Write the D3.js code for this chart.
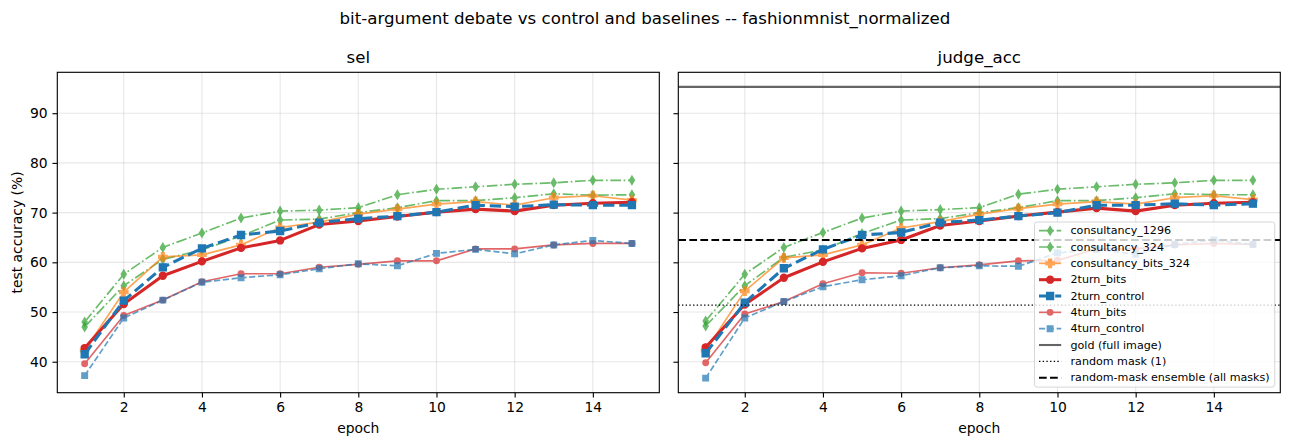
<!DOCTYPE html>
<html><head><meta charset="utf-8">
<script src="https://cdn.jsdelivr.net/npm/d3@7"></script>
<style>
html,body{margin:0;padding:0;background:#fff;}
text{font-family:"DejaVu Sans",sans-serif;fill:#000;}
</style></head>
<body>
<svg id="chart" width="1290" height="446"></svg>
<script>
const epochs = [1,2,3,4,5,6,7,8,9,10,11,12,13,14,15];
const xTicks = [2,4,6,8,10,12,14];
const yTicks = [40,50,60,70,80,90];

// panel "sel"
const c1296_sel = [48.0,57.6,63.0,65.9,68.9,70.3,70.5,71.0,73.6,74.7,75.2,75.7,76.0,76.5,76.5];
const c324_sel  = [47.0,55.3,60.6,62.5,65.3,68.5,68.7,70.0,71.0,72.4,72.4,73.0,73.8,73.5,73.6];
const cbits_sel = [42.3,54.0,61.1,61.5,63.5,67.0,68.1,69.7,70.7,71.7,72.2,71.5,73.0,73.4,72.5];
const b2_sel    = [42.75,51.6,57.3,60.2,62.9,64.4,67.6,68.3,69.2,70.1,70.7,70.3,71.5,71.9,72.1];
const c2_sel    = [41.5,52.3,59.0,62.8,65.5,66.3,68.0,68.8,69.3,70.1,71.5,71.2,71.6,71.5,71.5];
const b4_sel    = [39.6,49.3,52.4,56.1,57.7,57.7,59.0,59.6,60.3,60.3,62.7,62.7,63.5,63.8,63.8];
const c4_sel    = [37.2,48.8,52.4,56.0,56.9,57.5,58.7,59.7,59.3,61.8,62.6,61.7,63.5,64.4,63.8];

// panel "judge_acc"
const c1296_j = [48.2,57.6,63.0,66.0,68.9,70.3,70.6,71.0,73.7,74.7,75.2,75.7,76.0,76.5,76.5];
const c324_j  = [47.2,55.3,61.0,62.5,65.8,68.5,68.8,70.0,71.0,72.4,72.4,73.0,73.8,73.6,73.6];
const cbits_j = [42.3,54.2,60.9,61.5,63.5,66.9,68.2,69.7,70.8,71.7,72.2,71.7,73.0,73.4,72.6];
const b2_j    = [42.9,51.5,56.9,60.1,62.8,64.5,67.4,68.3,69.3,70.1,70.9,70.3,71.5,71.9,72.1];
const c2_j    = [41.7,51.9,58.8,62.6,65.5,66.0,68.0,68.5,69.3,70.0,71.5,71.5,71.8,71.5,71.8];
const b4_j    = [39.8,49.6,52.1,55.7,57.9,57.8,58.9,59.5,60.3,60.4,62.7,62.7,63.5,63.8,63.6];
const c4_j    = [36.7,48.8,52.1,55.1,56.5,57.3,58.9,59.3,59.2,61.9,62.6,61.6,63.6,64.5,63.6];

// baselines (judge_acc panel)
const goldAcc = 95.3;
const randomMaskAcc = 51.4;
const ensembleAcc = 64.5;

const seriesNames = ["consultancy_1296","consultancy_324","consultancy_bits_324","2turn_bits","2turn_control","4turn_bits","4turn_control"];
const selValues = [c1296_sel,c324_sel,cbits_sel,b2_sel,c2_sel,b4_sel,c4_sel];
const judgeValues = [c1296_j,c324_j,cbits_j,b2_j,c2_j,b4_j,c4_j];
const baselineNames = ["gold (full image)","random mask (1)","random-mask ensemble (all masks)"];
const baselineValues = [goldAcc, randomMaskAcc, ensembleAcc];

(function(){
const PT = 100/72;
const styles = [
  {color:"#2ca02c", alpha:0.7, lw:1.2, dash:[6.4,1.6,1,1.6], marker:"thin_diamond", ms:6},
  {color:"#2ca02c", alpha:0.7, lw:1.2, dash:[6.4,1.6,1,1.6], marker:"thin_diamond", ms:6},
  {color:"#ff7f0e", alpha:0.7, lw:1.2, dash:null, marker:"plus", ms:6},
  {color:"#d62728", alpha:1.0, lw:2.2, dash:null, marker:"circle", ms:5},
  {color:"#1f77b4", alpha:1.0, lw:2.2, dash:[3.7,1.6], marker:"square", ms:5},
  {color:"#d62728", alpha:0.7, lw:1.2, dash:null, marker:"circle", ms:4},
  {color:"#1f77b4", alpha:0.7, lw:1.2, dash:[3.7,1.6], marker:"square", ms:4}
];
const baseStyles = [
  {color:"#000000", alpha:0.6, lw:1.5, dash:null},
  {color:"#000000", alpha:1.0, lw:1.0, dash:[1,1.65]},
  {color:"#000000", alpha:1.0, lw:1.5, dash:[3.7,1.6]}
];

function dashStr(st){ return st.dash ? st.dash.map(d=>d*st.lw*PT).join(",") : null; }

function markerPath(type, ms){
  const s = ms*PT;
  if(type==="circle"){ const r=s/2; return `M${r},0A${r},${r} 0 1,1 ${-r},0A${r},${r} 0 1,1 ${r},0Z`; }
  if(type==="square"){ const h=s/2; return `M${-h},${-h}H${h}V${h}H${-h}Z`; }
  if(type==="thin_diamond"){ const h=s/2, w=s*0.3; return `M0,${-h}L${w},0L0,${h}L${-w},0Z`; }
  if(type==="plus"){ const h=s/2, t=s/6; return `M${-t},${-h}H${t}V${-t}H${h}V${t}H${t}V${h}H${-t}V${t}H${-h}V${-t}H${-t}Z`; }
}

const svg = d3.select("#chart");
const W=1290;

const allVals = selValues.flat().concat(judgeValues.flat(), baselineValues);
const ymin = d3.min(allVals), ymax = d3.max(allVals);
const ypad = (ymax-ymin)*0.05;
const xmin = d3.min(epochs), xmax = d3.max(epochs), xpad=(xmax-xmin)*0.05;

const plotTop=72.3, plotBottom=392.7;
const panels = [
  {left:57.3, right:659.3, title:"sel", values:selValues, baselines:false, yLabels:true},
  {left:678.3, right:1280.3, title:"judge_acc", values:judgeValues, baselines:true, yLabels:false}
];

svg.append("text").attr("x",W/2).attr("y",18).attr("text-anchor","middle")
  .attr("dominant-baseline","central").style("font-size",(12*PT)+"px")
  .text("bit-argument debate vs control and baselines -- fashionmnist_normalized");

panels.forEach((p,pi)=>{
  const x = d3.scaleLinear().domain([xmin-xpad,xmax+xpad]).range([p.left,p.right]);
  const y = d3.scaleLinear().domain([ymin-ypad,ymax+ypad]).range([plotBottom,plotTop]);
  const g = svg.append("g");
  const clipId = "clip"+pi;
  svg.append("clipPath").attr("id",clipId).append("rect")
    .attr("x",p.left).attr("y",plotTop).attr("width",p.right-p.left).attr("height",plotBottom-plotTop);

  g.append("g").selectAll("line").data(xTicks).join("line")
    .attr("x1",d=>x(d)).attr("x2",d=>x(d)).attr("y1",plotTop).attr("y2",plotBottom)
    .attr("stroke","#b0b0b0").attr("stroke-opacity",0.3).attr("stroke-width",0.8*PT);
  g.append("g").selectAll("line").data(yTicks).join("line")
    .attr("y1",d=>y(d)).attr("y2",d=>y(d)).attr("x1",p.left).attr("x2",p.right)
    .attr("stroke","#b0b0b0").attr("stroke-opacity",0.3).attr("stroke-width",0.8*PT);

  const plot = g.append("g").attr("clip-path",`url(#${clipId})`);
  const line = d3.line().x((d,i)=>x(epochs[i])).y(d=>y(d));
  p.values.forEach((vals,si)=>{
    const st = styles[si];
    const sg = plot.append("g").attr("opacity",st.alpha);
    sg.append("path").datum(vals).attr("d",line).attr("fill","none")
      .attr("stroke",st.color).attr("stroke-width",st.lw*PT)
      .attr("stroke-dasharray",dashStr(st)).attr("stroke-linejoin","round");
    sg.selectAll("path.m").data(vals).join("path").attr("class","m")
      .attr("transform",(d,i)=>`translate(${x(epochs[i])},${y(d)})`)
      .attr("d",markerPath(st.marker,st.ms)).attr("fill",st.color).attr("stroke",st.color).attr("stroke-width",1*PT);
  });
  if(p.baselines){
    baselineValues.forEach((v,bi)=>{
      const st = baseStyles[bi];
      plot.append("line").attr("x1",p.left).attr("x2",p.right).attr("y1",y(v)).attr("y2",y(v))
        .attr("stroke",st.color).attr("stroke-opacity",st.alpha).attr("stroke-width",st.lw*PT)
        .attr("stroke-dasharray",dashStr(st));
    });
  }

  const xAxis = d3.axisBottom(x).tickValues(xTicks).tickSize(3.5*PT).tickPadding(3.5*PT).tickFormat(d3.format("d"));
  const gx = g.append("g").attr("transform",`translate(0,${plotBottom})`).call(xAxis);
  gx.select(".domain").remove();
  gx.selectAll("line").attr("stroke-width",0.8*PT);
  gx.selectAll("text").style("font-size",(10*PT)+"px").attr("font-family","DejaVu Sans");
  const yAxis = d3.axisLeft(y).tickValues(yTicks).tickSize(3.5*PT).tickPadding(3.5*PT)
    .tickFormat(p.yLabels ? d3.format("d") : "");
  const gy = g.append("g").attr("transform",`translate(${p.left},0)`).call(yAxis);
  gy.select(".domain").remove();
  gy.selectAll("line").attr("stroke-width",0.8*PT);
  gy.selectAll("text").style("font-size",(10*PT)+"px").attr("font-family","DejaVu Sans");

  g.append("rect").attr("x",p.left).attr("y",plotTop).attr("width",p.right-p.left).attr("height",plotBottom-plotTop)
    .attr("fill","none").attr("stroke","#000").attr("stroke-width",0.8*PT);

  g.append("text").attr("x",(p.left+p.right)/2).attr("y",57).attr("text-anchor","middle")
    .attr("dominant-baseline","central").style("font-size",(12*PT)+"px").text(p.title);
  g.append("text").attr("x",(p.left+p.right)/2).attr("y",428).attr("text-anchor","middle")
    .attr("dominant-baseline","central").style("font-size",(10*PT)+"px").text("epoch");
  if(p.yLabels){
    g.append("text").attr("transform",`translate(17,${(plotTop+plotBottom)/2}) rotate(-90)`).attr("text-anchor","middle")
      .attr("dominant-baseline","central").style("font-size",(10*PT)+"px").text("test accuracy (%)");
  }

  if(pi===1){
    const entries = seriesNames.map((n,i)=>({name:n, st:styles[i], marker:true}))
      .concat(baselineNames.map((n,i)=>({name:n, st:baseStyles[i], marker:false})));
    const lx0=1034.5, ly0=222, lx1=1274.7, ly1=387.1;
    const lg = svg.append("g");
    lg.append("rect").attr("x",lx0).attr("y",ly0).attr("width",lx1-lx0).attr("height",ly1-ly0)
      .attr("rx",2.5).attr("fill","#fff").attr("fill-opacity",0.8).attr("stroke","#cccccc").attr("stroke-opacity",0.8).attr("stroke-width",1);
    const rowY = i => 230.7 + i*16.33;
    entries.forEach((e,i)=>{
      const eg = lg.append("g").attr("opacity",e.st.alpha);
      eg.append("line").attr("x1",1039).attr("x2",1061.2).attr("y1",rowY(i)).attr("y2",rowY(i))
        .attr("stroke",e.st.color).attr("stroke-width",e.st.lw*PT).attr("stroke-dasharray",dashStr(e.st));
      if(e.marker){
        eg.append("path").attr("transform",`translate(1050.1,${rowY(i)})`).attr("d",markerPath(e.st.marker,e.st.ms))
          .attr("fill",e.st.color).attr("stroke",e.st.color).attr("stroke-width",1*PT);
      }
      lg.append("text").attr("x",1070.5).attr("y",rowY(i)).attr("dominant-baseline","central")
        .style("font-size",(8*PT)+"px").text(e.name);
    });
  }
});
})();
</script>
</body></html>
